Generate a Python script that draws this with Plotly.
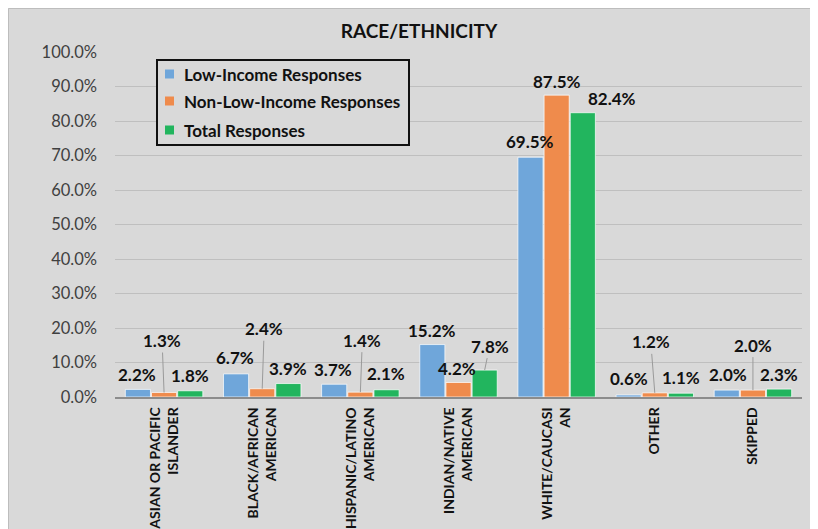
import plotly.graph_objects as go

# ---------------- data ----------------
categories = [
    "ASIAN OR PACIFIC<br>ISLANDER",
    "BLACK/AFRICAN<br>AMERICAN",
    "HISPANIC/LATINO<br>AMERICAN",
    "INDIAN/NATIVE<br>AMERICAN",
    "WHITE/CAUCASI<br>AN",
    "OTHER",
    "SKIPPED",
]
low_income = [2.2, 6.7, 3.7, 15.2, 69.5, 0.6, 2.0]
non_low_income = [1.3, 2.4, 1.4, 4.2, 87.5, 1.2, 2.0]
total = [1.8, 3.9, 2.1, 7.8, 82.4, 1.1, 2.3]
series_names = ["Low-Income Responses", "Non-Low-Income Responses", "Total Responses"]
y_ticks = [0, 10, 20, 30, 40, 50, 60, 70, 80, 90, 100]
y_tick_text = ["0.0%", "10.0%", "20.0%", "30.0%", "40.0%", "50.0%",
               "60.0%", "70.0%", "80.0%", "90.0%", "100.0%"]

# ---------------- styles ----------------
W, H = 810, 521
ML, MR, MT, MB = 107, 16, 44, 132
colors = ["#6FA6DA", "#EF8B4C", "#22B55E"]
FONT = "Lato"
BG = "#D9D9D9"
BARGAP = 0.2

# label offsets (dx, dy in px from top-centre of bar, leader line flag)
label_style = [
    [(-1, -15, 0), (-1, -16, 0), (-1, -15, 0), (0, -14, 0), (0, -16, 0), (0, -16, 0), (1, -16, 0)],
    [(-2, -52, 1), (2, -60, 1), (2, -52, 1), (-2, -14, 0), (0, -14, 0), (-4, -51, 1), (0, -45, 1)],
    [(0, -15, 0), (0, -15, 0), (-1, -16, 0), (5, -24, 1), (29, -14, 0), (0, -16, 0), (0, -15, 0)],
]

series = [low_income, non_low_income, total]

fig = go.Figure()
for name, vals, col in zip(series_names, series, colors):
    fig.add_trace(go.Bar(
        x=categories, y=vals, name=name, showlegend=False,
        marker=dict(color=col, line=dict(color="rgba(255,255,255,0.7)", width=1)),
    ))

plot_w = W - ML - MR
plot_h = H - MT - MB
cat_w = plot_w / len(categories)
bar_slot = cat_w * (1 - BARGAP) / 3
for si, (vals, styles) in enumerate(zip(series, label_style)):
    shift = (si - 1) * bar_slot
    for cat, v, (dx, dy, lead) in zip(categories, vals, styles):
        fig.add_annotation(
            x=cat, y=v, xref="x", yref="y", xshift=shift,
            text=f"<b>{v:.1f}%</b>",
            showarrow=True, arrowhead=0, arrowwidth=1, standoff=0,
            arrowcolor="#9A9A9A" if lead else "rgba(0,0,0,0)",
            ax=dx, ay=dy, axref="pixel", ayref="pixel",
            font=dict(family=FONT, size=17, color="#111111"),
        )


def px_x(px):
    return (px - ML) / plot_w


def px_y(py):
    return 1 - (py - MT) / plot_h


# thin chart-area border (top and left edges only)
fig.add_shape(type="line", xref="paper", yref="paper", layer="below",
              x0=px_x(0.5), x1=px_x(W), y0=px_y(0.5), y1=px_y(0.5),
              line=dict(color="#BDBDBD", width=1))
fig.add_shape(type="line", xref="paper", yref="paper", layer="below",
              x0=px_x(0.5), x1=px_x(0.5), y0=px_y(0.5), y1=px_y(H),
              line=dict(color="#BDBDBD", width=1))

# custom legend box
fig.add_shape(
    type="rect", xref="paper", yref="paper",
    x0=px_x(149), x1=px_x(401), y0=px_y(137), y1=px_y(52),
    fillcolor=BG, line=dict(color="#111111", width=2),
)
legend_rows = [66, 93, 122]
for name, col, ry in zip(series_names, colors, legend_rows):
    fig.add_shape(
        type="rect", xref="paper", yref="paper",
        x0=px_x(157), x1=px_x(166), y0=px_y(ry + 4.5), y1=px_y(ry - 4.5),
        fillcolor=col, line=dict(width=0),
    )
    fig.add_annotation(
        xref="paper", yref="paper", x=px_x(174), y=px_y(ry),
        xanchor="left", yanchor="middle", showarrow=False,
        text=f"<b>{name}</b>",
        font=dict(family=FONT, size=17, color="#111111"),
    )

fig.update_layout(
    width=W, height=H,
    margin=dict(l=ML, r=MR, t=MT, b=MB, autoexpand=False),
    paper_bgcolor=BG, plot_bgcolor=BG,
    barmode="group", bargap=BARGAP, bargroupgap=0.04,
    title=dict(
        text="<b>RACE/ETHNICITY</b>", xref="paper", x=px_x(411), xanchor="center",
        yref="container", y=1 - 23 / H, yanchor="middle",
        font=dict(family=FONT, size=19, color="#111111"),
    ),
    showlegend=False,
)
fig.update_yaxes(
    range=[0, 100], tickvals=y_ticks, ticktext=y_tick_text, automargin=False,
    showgrid=True, gridcolor="#BFBFBF", gridwidth=1, zeroline=False,
    showline=False, ticks="", ticklabelstandoff=17,
    tickfont=dict(family=FONT, size=16.5, color="#404040"),
)
fig.update_xaxes(
    showline=True, linecolor="#8C8C8C", linewidth=1.5, ticks="", automargin=False,
    tickangle=-90, showgrid=False, ticklabelstandoff=3,
    tickfont=dict(family=FONT, size=14, color="#111111", weight="bold"),
)

fig.write_html("out.html")
